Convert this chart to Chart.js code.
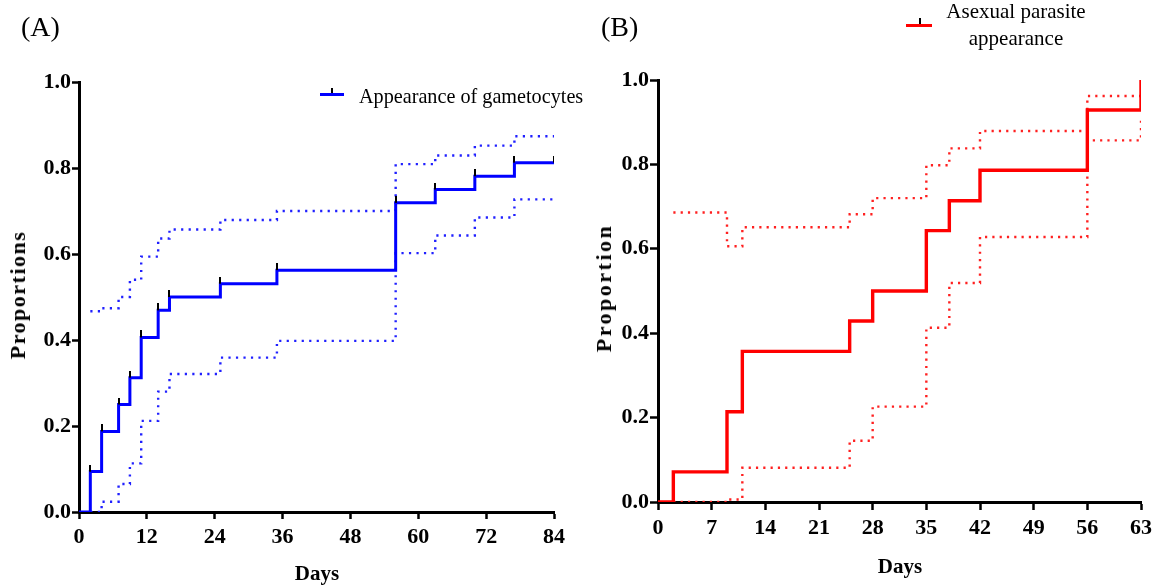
<!DOCTYPE html>
<html><head><meta charset="utf-8">
<script src="https://cdn.jsdelivr.net/npm/chart.js@4.4.0/dist/chart.umd.min.js"></script>
<style>
body{margin:0;background:#fff;width:1161px;height:588px;overflow:hidden;position:relative;font-family:"Liberation Serif","Times New Roman",serif;}
canvas{position:absolute;top:0;}
#cA{left:0px}
#cB{left:580px}
.t{position:absolute;white-space:nowrap;color:#000;line-height:1;}
.rot{position:absolute;white-space:nowrap;color:#000;font-weight:bold;line-height:1;transform:translate(-50%,-50%) rotate(-90deg);}
.cen{position:absolute;white-space:nowrap;color:#000;font-weight:bold;line-height:1;transform:translate(-50%,-50%);}
</style></head><body>
<canvas id="cA" width="580" height="588"></canvas>
<canvas id="cB" width="581" height="588"></canvas>

<div class="t" style="left:21px;top:13px;font-size:28px;">(A)</div>
<div class="t" style="left:601px;top:13px;font-size:28px;">(B)</div>

<div class="rot" style="left:18px;top:295px;font-size:22px;letter-spacing:1.5px;">Proportions</div>
<div class="rot" style="left:604px;top:288px;font-size:22px;letter-spacing:2.5px;">Proportion</div>
<div class="cen" style="left:317px;top:573px;font-size:21px;">Days</div>
<div class="cen" style="left:900px;top:566px;font-size:21px;">Days</div>

<div style="position:absolute;left:320px;top:92.5px;width:24px;height:3px;background:#0000ff;"></div>
<div style="position:absolute;left:331px;top:88px;width:2px;height:5px;background:#000;"></div>
<div class="t" style="left:359px;top:84px;font-size:20.2px;line-height:24px;">Appearance of gametocytes</div>

<div style="position:absolute;left:906px;top:23.5px;width:26px;height:3.5px;background:#ff0000;"></div>
<div style="position:absolute;left:918.5px;top:18px;width:2px;height:6px;background:#000;"></div>
<div class="t" style="left:936px;width:160px;top:-2px;font-size:21px;line-height:27px;text-align:center;">Asexual parasite<br>appearance</div>

<script>
// ---------- Panel A data ----------
const daysA = [0, 2, 4, 7, 9, 11, 14, 16, 25, 35, 56, 63, 70, 77, 84];
const gametocytes = [0, 0.094, 0.1875, 0.25, 0.3125, 0.406, 0.469, 0.5, 0.531, 0.5625, 0.719, 0.75, 0.781, 0.8125, 0.8125];
const ciDaysA = [2, 4, 7, 9, 11, 14, 16, 25, 35, 56, 63, 70, 77, 84];
const upperA = [0.467, 0.474, 0.50, 0.54, 0.594, 0.636, 0.657, 0.679, 0.70, 0.809, 0.829, 0.852, 0.874, 0.874];
const lowerA = [0, 0.024, 0.065, 0.113, 0.212, 0.28, 0.321, 0.359, 0.398, 0.602, 0.643, 0.685, 0.727, 0.727];
const censorDaysA = [2, 4, 7, 9, 11, 14, 16, 25, 35, 56, 63, 70, 77, 84];
const xTicksA = [0, 12, 24, 36, 48, 60, 72, 84];

// ---------- Panel B data ----------
const daysB = [0, 2, 9, 11, 25, 28, 35, 38, 42, 56, 63];
const asexual = [0, 0.0714, 0.214, 0.357, 0.429, 0.5, 0.643, 0.714, 0.786, 0.929, 1.0];
const ciDaysB = [2, 9, 11, 25, 28, 35, 38, 42, 56, 63];
const upperB = [0.686, 0.606, 0.651, 0.682, 0.72, 0.798, 0.838, 0.879, 0.962, 0.962];
const lowerB = [0, 0.006, 0.081, 0.145, 0.226, 0.413, 0.519, 0.628, 0.857, 0.91];
const xTicksB = [0, 7, 14, 21, 28, 35, 42, 49, 56, 63];

const yTicks = [0, 0.2, 0.4, 0.6, 0.8, 1.0];

// ---------- helpers ----------
function pts(xs, ys) { return xs.map((x, i) => ({x: x, y: ys[i]})); }

const tickImg = document.createElement('canvas');
tickImg.width = 2; tickImg.height = 14;
(function(){ const c = tickImg.getContext('2d'); c.fillStyle = '#000'; c.fillRect(0, 0, 2, 7); })();

Chart.defaults.font.family = '"Liberation Serif", "Times New Roman", serif';
Chart.defaults.color = '#000';

function makeScales(xmin, xmax, xTicks, yWidth, xHeight, tl) {
  const grid = {drawOnChartArea: false, drawTicks: true, tickLength: tl, tickColor: '#000', tickWidth: 2.5};
  const border = {display: true, color: '#000', width: 3};
  return {
    x: {
      type: 'linear', min: xmin, max: xmax,
      afterBuildTicks: s => { s.ticks = xTicks.map(v => ({value: v})); },
      afterFit: s => { s.height = xHeight; },
      ticks: {color: '#000', font: {size: 22, weight: 'bold'}, padding: 5, maxRotation: 0, autoSkip: false, callback: v => String(v)},
      grid: grid, border: border
    },
    y: {
      type: 'linear', min: 0, max: 1,
      afterBuildTicks: s => { s.ticks = yTicks.map(v => ({value: v})); },
      afterFit: s => { s.width = yWidth; },
      ticks: {color: '#000', font: {size: 22, weight: 'bold'}, padding: 1, autoSkip: false, callback: v => Number(v).toFixed(1)},
      grid: grid, border: border
    }
  };
}

function solid(data, color, w) {
  return {data: data, borderColor: color, borderWidth: w, stepped: true, pointRadius: 0, fill: false, order: 1};
}
function dotted(data, color, period) {
  return {data: data, borderColor: color, borderWidth: 2.4, borderDash: [2.2, period - 2.2], borderCapStyle: 'butt',
          stepped: true, pointRadius: 0, fill: false, order: 2};
}

const common = {
  responsive: false, animation: false, events: [],
  plugins: {legend: {display: false}, tooltip: {enabled: false}, title: {display: false}}
};

// ---------- Chart A ----------
const censorA = censorDaysA.map(d => ({x: d, y: gametocytes[daysA.indexOf(d)]}));
new Chart(document.getElementById('cA'), {
  type: 'line',
  data: {datasets: [
    {data: censorA, showLine: false, pointStyle: tickImg, pointRadius: 4, order: 0},
    solid(pts(daysA, gametocytes), '#0000ff', 3),
    dotted(pts(ciDaysA, upperA), '#2020ff', 7.5),
    dotted(pts(ciDaysA, lowerA), '#2020ff', 7.5)
  ]},
  options: Object.assign({}, common, {
    layout: {padding: {top: 82, left: 0, right: 26, bottom: 0}},
    scales: makeScales(0, 84, xTicksA, 79, 76, 7)
  })
});

// ---------- Chart B ----------
new Chart(document.getElementById('cB'), {
  type: 'line',
  data: {datasets: [
    solid(pts(daysB, asexual), '#ff0000', 3.4),
    dotted(pts(ciDaysB, upperB), '#ff2020', 7.3),
    dotted(pts(ciDaysB, lowerB), '#ff2020', 7.3)
  ]},
  options: Object.assign({}, common, {
    layout: {padding: {top: 80, left: 0, right: 20, bottom: 0}},
    scales: makeScales(0, 63, xTicksB, 78, 86, 8)
  })
});
</script>
</body></html>
